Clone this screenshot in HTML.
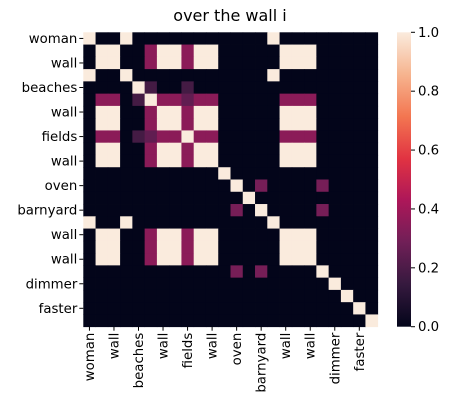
<!DOCTYPE html>
<html><head><meta charset="utf-8"><style>
body{margin:0;background:#fff;}
svg{display:block;font-family:"DejaVu Sans","Liberation Sans",sans-serif;}
</style></head><body>
<svg id="c" width="453" height="410" viewBox="0 0 453 410" xmlns="http://www.w3.org/2000/svg">
<defs><linearGradient id="rk" x1="0" y1="1" x2="0" y2="0">
<stop offset="0" stop-color="#03051a"/><stop offset="0.143" stop-color="#35193e"/><stop offset="0.286" stop-color="#701f57"/><stop offset="0.429" stop-color="#ad1759"/><stop offset="0.571" stop-color="#e13342"/><stop offset="0.714" stop-color="#f37651"/><stop offset="0.857" stop-color="#f6b48f"/><stop offset="1" stop-color="#faebdd"/></linearGradient></defs>
<text x="230" y="21" font-size="16" text-anchor="middle" fill="#000">over the wall i</text>
<g id="cells"></g>
<g id="axes"></g>
<rect x="397" y="32.3" width="14" height="294.4" fill="url(#rk)"/>
<g id="cbar"></g>
</svg>
<script>
const labels = ["woman","wall","beaches","wall","fields","wall","oven","barnyard","wall","wall","dimmer","faster"];
const n = 24;
const brightGroupA = [0,3,15];
const wallGroup = [1,2,6,7,9,10,16,17,18];
const midCols = [5,8];
const ovenGroup = [12,14,19];
const cbTicks = [0,0.2,0.4,0.6,0.8,1.0];
const vBright = 1.0, vMid = 0.35, vLow = 0.18;

const M = [];
for(let i=0;i<n;i++){M.push(new Array(n).fill(0));M[i][i]=vBright;}
brightGroupA.forEach(a=>brightGroupA.forEach(b=>M[a][b]=vBright));
wallGroup.forEach(a=>wallGroup.forEach(b=>M[a][b]=vBright));
wallGroup.forEach(a=>midCols.forEach(b=>{M[a][b]=vMid;M[b][a]=vMid;}));
M[4][5]=M[5][4]=vLow;M[4][8]=M[8][4]=vLow;M[5][8]=M[8][5]=0.25;
ovenGroup.forEach(a=>ovenGroup.forEach(b=>{if(a!==b)M[a][b]=0.3;}));
M[14][19]=M[19][14]=0.3;M[12][14]=M[14][12]=0.3;

const stops=[[0,[3,5,26]],[0.143,[53,25,62]],[0.286,[112,31,87]],[0.429,[173,23,89]],[0.571,[225,51,66]],[0.714,[243,118,81]],[0.857,[246,180,143]],[1,[250,235,221]]];
function color(v){for(let k=1;k<stops.length;k++){if(v<=stops[k][0]){const [a,ca]=stops[k-1],[b,cb]=stops[k];const t=(v-a)/(b-a);return 'rgb('+ca.map((c,j)=>Math.round(c+(cb[j]-c)*t)).join(',')+')';}}return 'rgb(250,235,221)';}
const L=83.3,T=32.3,W=294.4,cs=W/n;
const xs=i=>L+i*cs, ys=i=>T+i*cs;
const NS="http://www.w3.org/2000/svg";
const g=document.getElementById('cells');
for(let i=0;i<n;i++)for(let j=0;j<n;j++){
 const r=document.createElementNS(NS,'rect');
 r.setAttribute('x',xs(j));r.setAttribute('y',ys(i));r.setAttribute('width',cs+0.4);r.setAttribute('height',cs+0.4);
 r.setAttribute('fill',color(M[i][j]));
 
 
 g.appendChild(r);}
const ax=document.getElementById('axes');
const FS='13.3';
labels.forEach((lb,k)=>{
 const c=(2*k+0.5)*cs;
 const ty=document.createElementNS(NS,'line');
 ty.setAttribute('x1',L-4);ty.setAttribute('x2',L);ty.setAttribute('y1',T+c);ty.setAttribute('y2',T+c);ty.setAttribute('stroke','#000');
 
 
 ax.appendChild(ty);
 const t=document.createElementNS(NS,'text');
 t.setAttribute('x',L-6);t.setAttribute('y',T+c+4.5);t.setAttribute('text-anchor','end');t.setAttribute('font-size',FS);t.setAttribute('fill','#000');
 t.textContent=lb;
 
 
 ax.appendChild(t);
 const tx=document.createElementNS(NS,'line');
 tx.setAttribute('x1',L+c);tx.setAttribute('x2',L+c);tx.setAttribute('y1',T+W);tx.setAttribute('y2',T+W+4);tx.setAttribute('stroke','#000');
 
 
 ax.appendChild(tx);
 const u=document.createElementNS(NS,'text');
 const px=L+c+4.5, py=T+W+6;
 u.setAttribute('transform','translate('+px+','+py+') rotate(-90)');
 u.setAttribute('text-anchor','end');u.setAttribute('font-size',FS);u.setAttribute('fill','#000');
 u.textContent=lb;
 
 
 ax.appendChild(u);
});
const cb=document.getElementById('cbar');
cbTicks.forEach(v=>{
 const y=T+W-v*W;
 const l=document.createElementNS(NS,'line');
 l.setAttribute('x1',411);l.setAttribute('x2',415);l.setAttribute('y1',y);l.setAttribute('y2',y);l.setAttribute('stroke','#000');
 
 
 cb.appendChild(l);
 const t=document.createElementNS(NS,'text');
 t.setAttribute('x',418);t.setAttribute('y',y+4.5);t.setAttribute('font-size',FS);t.setAttribute('fill','#000');
 t.textContent=v.toFixed(1);
 
 
 cb.appendChild(t);
});
</script>
</body></html>
